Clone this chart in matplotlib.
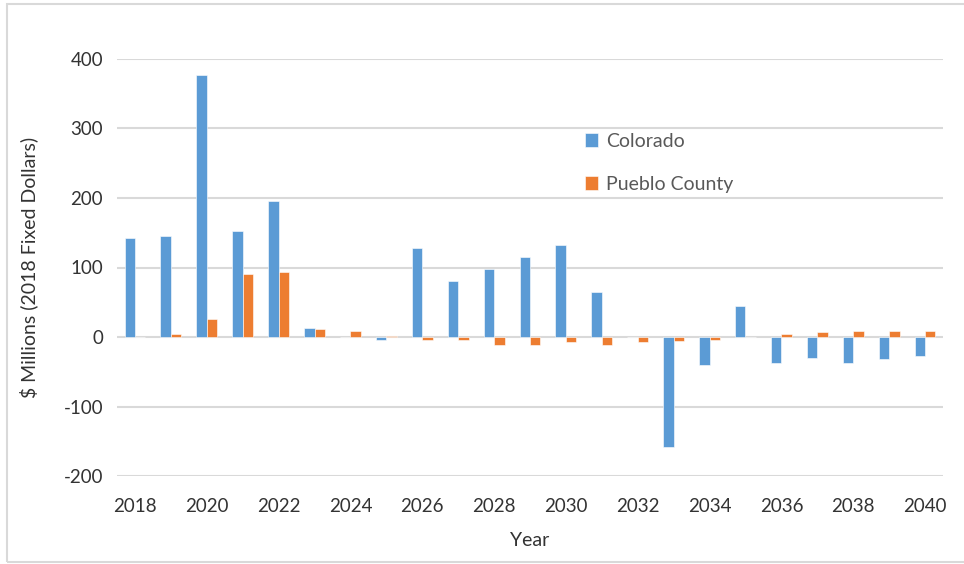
import matplotlib
matplotlib.use('Agg')
import matplotlib.pyplot as plt
from matplotlib.patches import Rectangle
import numpy as np

plt.rcParams['font.family'] = ['Lato', 'DejaVu Sans']

years = list(range(2018, 2041))
colorado = [142, 146, 377, 153, 196, 13, 0, -4, 128, 80, 98, 115, 132, 65,
            0, -158, -41, 45, -38, -30, -38, -32, -28]
pueblo = [0, 4, 26, 91, 94, 11, 8, 2, -4, -4, -11, -11, -7, -11,
          -7, -6, -4, 0, 5, 7, 9, 9, 9]
tick_years = list(range(2018, 2041, 2))

BLUE = '#5b9bd5'
ORANGE = '#ed7d31'
TXT = '#333333'

fig = plt.figure(figsize=(9.64, 5.64), dpi=100)
ax = fig.add_axes([117 / 964, 1 - 476 / 564, 826 / 964, 417 / 564])

x = np.arange(len(years))
w = 0.29
ax.bar(x - w / 2, colorado, w, color=BLUE, label='Colorado', zorder=3,
       edgecolor='white', linewidth=0.4)
ax.bar(x + w / 2, pueblo, w, color=ORANGE, label='Pueblo County', zorder=3,
       edgecolor='white', linewidth=0.4)

ax.set_xlim(-0.5, len(years) - 0.5)
ax.set_ylim(-200, 400)
ax.set_yticks(range(-200, 401, 100))
ax.set_yticklabels([str(v) for v in range(-200, 401, 100)])
ax.set_xticks([years.index(y) for y in tick_years])
ax.set_xticklabels([str(y) for y in tick_years])
ax.tick_params(length=0, labelsize=13.5, colors=TXT, pad=10)
ax.tick_params(axis='x', pad=16)
ax.yaxis.grid(True, color='#d9d9d9', linewidth=1.5, zorder=0)
ax.set_axisbelow(True)
for s in ax.spines.values():
    s.set_visible(False)

ax.set_xlabel('Year', fontsize=14, color=TXT, labelpad=12)
ax.set_ylabel('$ Millions (2018 Fixed Dollars)', fontsize=14, color=TXT, labelpad=18)

ax.legend(loc='upper left', bbox_to_anchor=(0.545, 0.865), frameon=False,
          fontsize=14, labelcolor='#595959', handlelength=0.7,
          handleheight=0.7, handletextpad=0.4, labelspacing=1.35)

# chart area border
fig.patches.append(Rectangle((7 / 964, 2 / 564), 1.0, 558 / 564,
                             transform=fig.transFigure, fill=False,
                             edgecolor='#d9d9d9', linewidth=1.5))

fig.savefig('out.png', dpi=100)
